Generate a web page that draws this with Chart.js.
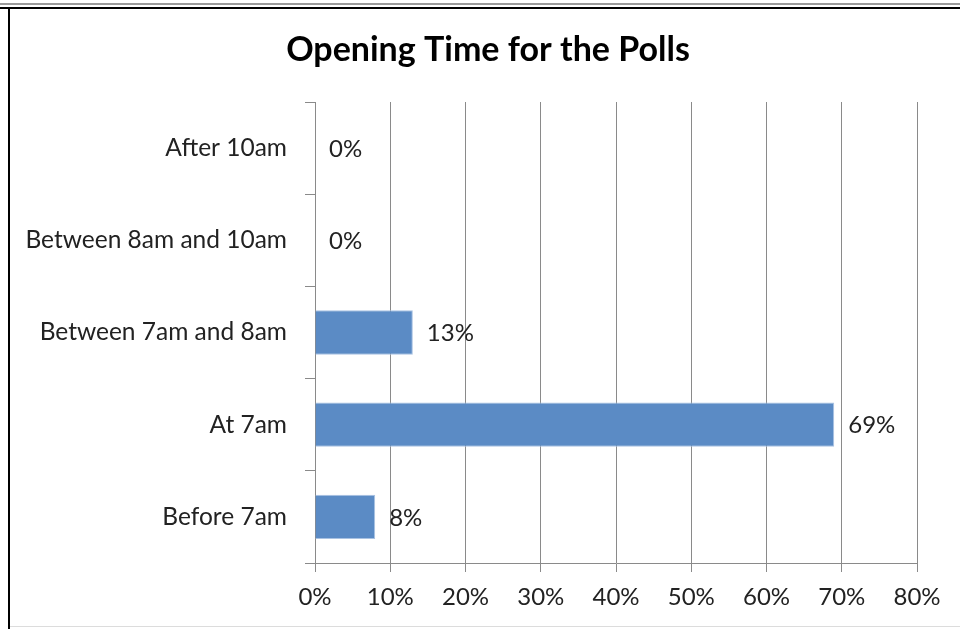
<!DOCTYPE html>
<html>
<head>
<meta charset="utf-8">
<title>Opening Time for the Polls</title>
<script src="https://cdn.jsdelivr.net/npm/chart.js@4/dist/chart.umd.min.js"></script>
<style>
  html, body { margin: 0; padding: 0; background: #fff; }
  #wrap { position: relative; width: 960px; height: 629px; }
</style>
</head>
<body>
<div id="wrap"><canvas id="myChart" width="960" height="629"></canvas></div>
<script>
// data
const chartTitle = "Opening Time for the Polls";
const categories = ["After 10am", "Between 8am and 10am", "Between 7am and 8am", "At 7am", "Before 7am"];
const percentages = [0, 0, 13, 69, 8];
const tickValues = [0, 10, 20, 30, 40, 50, 60, 70, 80];

const fontName = "Lato, 'Liberation Sans', sans-serif";
const gridColor = "#8a8a8a";

//frame round the picture + the title (title sits a bit right of the plot centre)
const framePlugin = {
  id: "frame",
  beforeDraw(chart) {
    const ctx = chart.ctx;
    ctx.save();
    ctx.fillStyle = "#9a9a9a";
    ctx.fillRect(0, 3, 960, 2);
    ctx.fillStyle = "#000";
    ctx.fillRect(0, 7, 960, 2);
    ctx.fillRect(8, 7, 2, 622);
    ctx.fillStyle = "#dcdcdc";
    ctx.fillRect(10, 626, 950, 1);

    ctx.font = "bold 34px " + fontName;
    ctx.fillStyle = "#000";
    ctx.textAlign = "center";
    ctx.textBaseline = "middle";
    ctx.fillText(chartTitle, 488, 50);
    ctx.restore();
  },
};

//value labels at the end of each bar
const valueLabels = {
  id: "valueLabels",
  afterDatasetsDraw(chart) {
    const ctx = chart.ctx;
    const meta = chart.getDatasetMeta(0);
    ctx.save();
    ctx.font = "24px " + fontName;
    ctx.fillStyle = "#222";
    ctx.textAlign = "left";
    ctx.textBaseline = "middle";
    meta.data.forEach((bar, i) => {
      ctx.fillText(percentages[i] + "%", bar.x + 14, bar.y + 1);
    });
    ctx.restore();
  },
};

const config = {
  type: "bar",
  data: {
    labels: categories,
    datasets: [
      {
        data: percentages,
        backgroundColor: "#5b8bc5",
        borderColor: "#a9c2e2",
        borderWidth: 1,
        borderSkipped: "start",
        categoryPercentage: 1,
        barPercentage: 0.48,
      },
    ],
  },
  options: {
    indexAxis: "y",
    responsive: false,
    animation: false,
    layout: { padding: { left: 10, right: 43, top: 102, bottom: 0 } },
    plugins: {
      legend: { display: false },
      tooltip: { enabled: false },
      title: { display: false },
    },
    scales: {
      x: {
        min: 0,
        max: 80,
        afterBuildTicks: (scale) => {
          scale.ticks = tickValues.map((v) => ({ value: v }));
        },
        afterFit: (scale) => {
          scale.height = 66;
        },
        grid: { color: gridColor, tickLength: 9, lineWidth: 1 },
        border: { color: gridColor },
        ticks: {
          color: "#222",
          font: { family: fontName, size: 24 },
          padding: 11,
          maxRotation: 0,
          callback: (v) => v + "%",
        },
      },
      y: {
        afterFit: (scale) => {
          scale.width = 305;
        },
        grid: { offset: true, drawOnChartArea: false, color: gridColor, tickLength: 10 },
        border: { color: gridColor },
        ticks: {
          color: "#222",
          font: { family: fontName, size: 24.5 },
          padding: 18,
        },
      },
    },
  },
  plugins: [framePlugin, valueLabels],
};

const myChart = new Chart(document.getElementById("myChart"), config);
</script>
</body>
</html>
